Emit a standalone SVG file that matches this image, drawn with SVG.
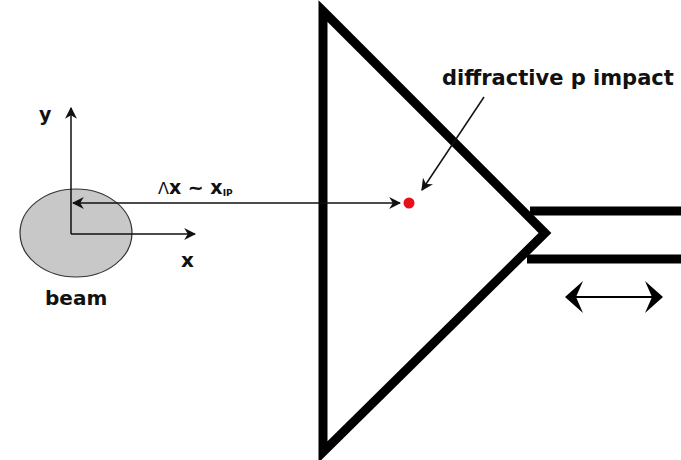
<svg xmlns="http://www.w3.org/2000/svg" width="681" height="460" viewBox="0 0 681 460">
<style>
.t{font-family:"DejaVu Sans",Verdana,sans-serif;font-weight:bold;fill:#111}
.thin{stroke:#111;stroke-width:1.5;fill:none}
.thick{stroke:#000;stroke-width:9;fill:none;stroke-linejoin:miter}
</style>
<defs>
<marker id="ah" viewBox="0 0 10 10" refX="9" refY="5" markerWidth="12" markerHeight="12" markerUnits="userSpaceOnUse" orient="auto-start-reverse">
<path d="M0,0 L10,5 L0,10 L3,5 Z" fill="#111"/>
</marker>
<marker id="ah2" viewBox="0 0 18 32" refX="17" refY="16" markerWidth="18" markerHeight="32" markerUnits="userSpaceOnUse" orient="auto-start-reverse">
<path d="M0,0 L18,16 L0,32 L7,16 Z" fill="#000"/>
</marker>
</defs>
<rect width="681" height="460" fill="#fff"/>
<g id="detector">
<path class="thick" d="M323,11 L545,233 L323,452 Z"/>
<line class="thick" x1="530" y1="211" x2="681" y2="211"/>
<line class="thick" x1="527" y1="259" x2="681" y2="259"/>
</g>
<g id="beam">
<ellipse cx="76" cy="233" rx="56" ry="44" fill="#c8c8c8" stroke="#333" stroke-width="1.2"/>
<text class="t" x="45" y="305" font-size="20">beam</text>
</g>
<g id="axes">
<text class="t" x="39" y="121" font-size="19">y</text>
<text class="t" x="181" y="267" font-size="20">x</text>
</g>
<g id="impact">
<circle cx="409" cy="203" r="5.5" fill="#e8101a"/>
<text class="t" x="442" y="85" font-size="21">diffractive p impact</text>
</g>
<g id="label">
<text class="t" x="158" y="194" font-size="19"><tspan font-weight="normal" font-size="16">Λ</tspan>x ~ x<tspan font-size="9" dy="2">IP</tspan></text>
</g>
<g id="connectors">
<line class="thin" x1="71" y1="234" x2="71" y2="108" marker-end="url(#ah)"/>
<line class="thin" x1="71" y1="234" x2="195" y2="234" marker-end="url(#ah)"/>
<line class="thin" x1="73" y1="203" x2="400" y2="203" marker-start="url(#ah)" marker-end="url(#ah)"/>
<line class="thin" x1="484" y1="97" x2="422" y2="190" stroke-width="1.2" marker-end="url(#ah)"/>
<line stroke="#000" stroke-width="2" x1="566" y1="297" x2="662" y2="297" marker-start="url(#ah2)" marker-end="url(#ah2)"/>
</g>
</svg>
